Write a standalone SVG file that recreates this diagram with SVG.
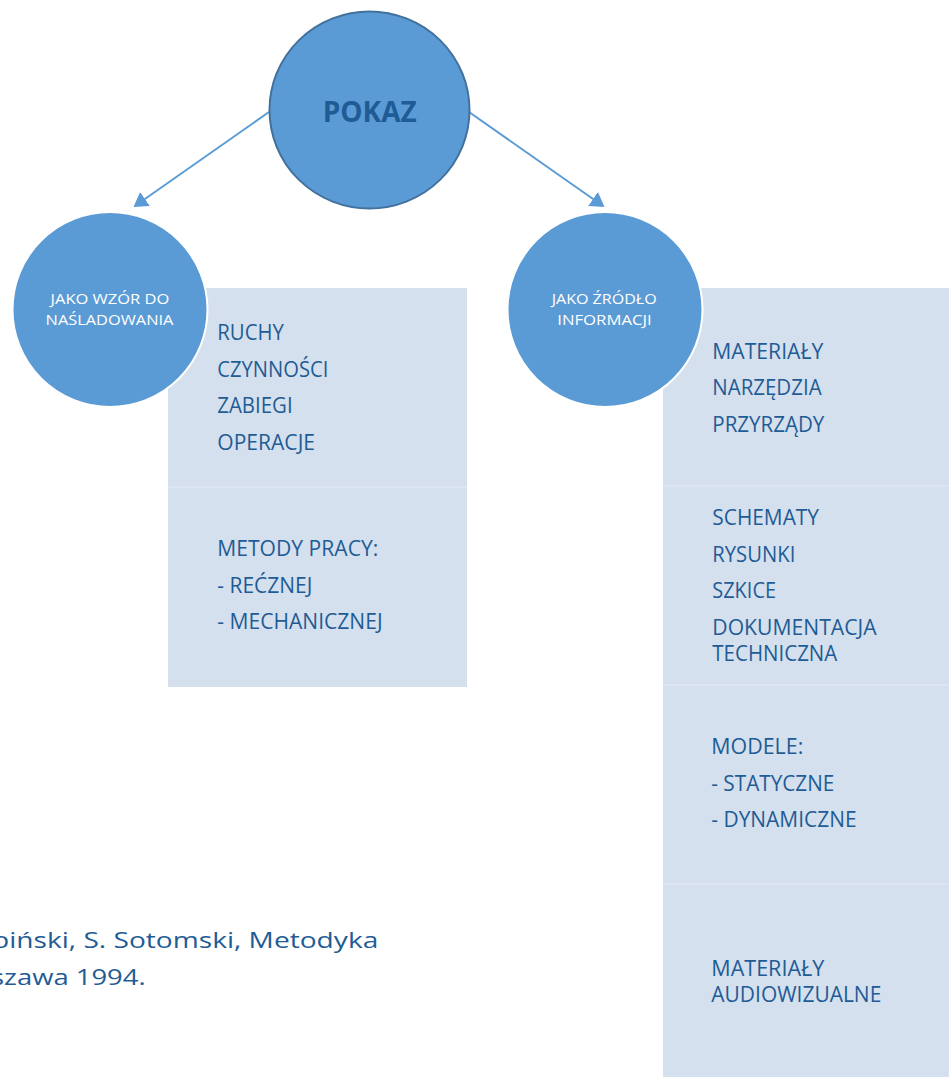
<svg xmlns="http://www.w3.org/2000/svg" width="949" height="1077" viewBox="0 0 949 1077">
  <style>
    .panel { fill: #D5E0EE; }
    .divider { stroke: #DCE6F2; stroke-width: 2; }
    .bubble { fill: #5B9BD5; stroke: #FFFFFF; stroke-width: 2; }
    .root { fill: #5B9BD5; stroke: #41719C; stroke-width: 2; }
    .item { font-family: "Open Sans", "Lato", sans-serif; font-size: 21px; fill: #1F5C95; }
    .label { font-family: "Open Sans", "Lato", sans-serif; font-size: 15px; fill: #FFFFFF; }
    .title { font-family: "Open Sans", "Lato", sans-serif; font-size: 29px; font-weight: bold; fill: #1F5C95; }
    .cite { font-family: "Open Sans", "Lato", sans-serif; font-size: 21.5px; fill: #1F5C95; }
    .edge { fill: none; stroke: #5B9BD5; stroke-width: 2; }
  </style>
  <defs>
    <marker id="arrow" markerUnits="userSpaceOnUse" markerWidth="14" markerHeight="17" refX="4" refY="8.5" orient="auto">
      <path d="M0,0 L14,8.5 L0,17 Z" fill="#5B9BD5"/>
    </marker>
  </defs>

  <rect width="949" height="1077" fill="#FFFFFF"/>

  <!-- connectors from the main node to both branches -->
  <g id="connectors">
    <path class="edge" d="M269,112 L141.7,201.3" marker-end="url(#arrow)"/>
    <path class="edge" d="M469,112 L596.3,201.3" marker-end="url(#arrow)"/>
  </g>

  <!-- left list panel -->
  <g id="list-imitation">
    <rect class="panel" x="168" y="288" width="299" height="399"/>
    <line class="divider" x1="168" y1="487" x2="467" y2="487"/>
    <text class="item" x="217.3" y="340" textLength="66.7" lengthAdjust="spacingAndGlyphs">RUCHY</text>
    <text class="item" x="217.3" y="377" textLength="111" lengthAdjust="spacingAndGlyphs">CZYNNOŚCI</text>
    <text class="item" x="217.3" y="413" textLength="75.3" lengthAdjust="spacingAndGlyphs">ZABIEGI</text>
    <text class="item" x="217.3" y="450" textLength="97.7" lengthAdjust="spacingAndGlyphs">OPERACJE</text>
    <text class="item" x="217.3" y="556" textLength="161" lengthAdjust="spacingAndGlyphs">METODY PRACY:</text>
    <text class="item" x="217.3" y="593" textLength="95" lengthAdjust="spacingAndGlyphs">- REĆZNEJ</text>
    <text class="item" x="217.3" y="629" textLength="165.3" lengthAdjust="spacingAndGlyphs">- MECHANICZNEJ</text>
  </g>

  <!-- right list panel -->
  <g id="list-information">
    <rect class="panel" x="663" y="288" width="290" height="795"/>
    <line class="divider" x1="663" y1="486" x2="953" y2="486"/>
    <line class="divider" x1="663" y1="685" x2="953" y2="685"/>
    <line class="divider" x1="663" y1="884" x2="953" y2="884"/>
    <text class="item" x="712.3" y="359.3" textLength="111" lengthAdjust="spacingAndGlyphs">MATERIAŁY</text>
    <text class="item" x="712.3" y="395" textLength="109.3" lengthAdjust="spacingAndGlyphs">NARZĘDZIA</text>
    <text class="item" x="712.3" y="432" textLength="112" lengthAdjust="spacingAndGlyphs">PRZYRZĄDY</text>
    <text class="item" x="712.3" y="525" textLength="106.7" lengthAdjust="spacingAndGlyphs">SCHEMATY</text>
    <text class="item" x="712.3" y="562" textLength="83" lengthAdjust="spacingAndGlyphs">RYSUNKI</text>
    <text class="item" x="712.3" y="598" textLength="63.7" lengthAdjust="spacingAndGlyphs">SZKICE</text>
    <text class="item" x="712.3" y="635" textLength="164.3" lengthAdjust="spacingAndGlyphs">DOKUMENTACJA</text>
    <text class="item" x="712.3" y="661" textLength="125" lengthAdjust="spacingAndGlyphs">TECHNICZNA</text>
    <text class="item" x="711.3" y="754" textLength="92" lengthAdjust="spacingAndGlyphs">MODELE:</text>
    <text class="item" x="711.3" y="791" textLength="123" lengthAdjust="spacingAndGlyphs">- STATYCZNE</text>
    <text class="item" x="711.3" y="827" textLength="145.3" lengthAdjust="spacingAndGlyphs">- DYNAMICZNE</text>
    <text class="item" x="711.3" y="976" textLength="113" lengthAdjust="spacingAndGlyphs">MATERIAŁY</text>
    <text class="item" x="711.3" y="1002" textLength="170" lengthAdjust="spacingAndGlyphs">AUDIOWIZUALNE</text>
  </g>

  <!-- main node -->
  <g id="node-pokaz">
    <ellipse class="root" cx="369.5" cy="110" rx="100" ry="98.5"/>
    <text class="title" x="322.7" y="121.7" textLength="94" lengthAdjust="spacingAndGlyphs">POKAZ</text>
  </g>

  <!-- branch: imitation -->
  <g id="node-imitation">
    <circle class="bubble" cx="110" cy="309.5" r="97.5"/>
    <text class="label" x="50.6" y="304" textLength="118.7" lengthAdjust="spacingAndGlyphs">JAKO WZÓR DO</text>
    <text class="label" x="45.6" y="325" textLength="127.8" lengthAdjust="spacingAndGlyphs">NAŚLADOWANIA</text>
  </g>

  <!-- branch: information -->
  <g id="node-information">
    <circle class="bubble" cx="605" cy="309.5" r="97.5"/>
    <text class="label" x="551.7" y="304" textLength="105" lengthAdjust="spacingAndGlyphs">JAKO ŹRÓDŁO</text>
    <text class="label" x="557.3" y="325" textLength="94.3" lengthAdjust="spacingAndGlyphs">INFORMACJI</text>
  </g>

  <!-- source note, cut by the left edge -->
  <g id="source-note">
    <text class="cite" x="-8" y="947.7" textLength="386.3" lengthAdjust="spacingAndGlyphs">piński, S. Sotomski, Metodyka</text>
    <text class="cite" x="-9" y="985" textLength="154.7" lengthAdjust="spacingAndGlyphs">szawa 1994.</text>
  </g>
</svg>
